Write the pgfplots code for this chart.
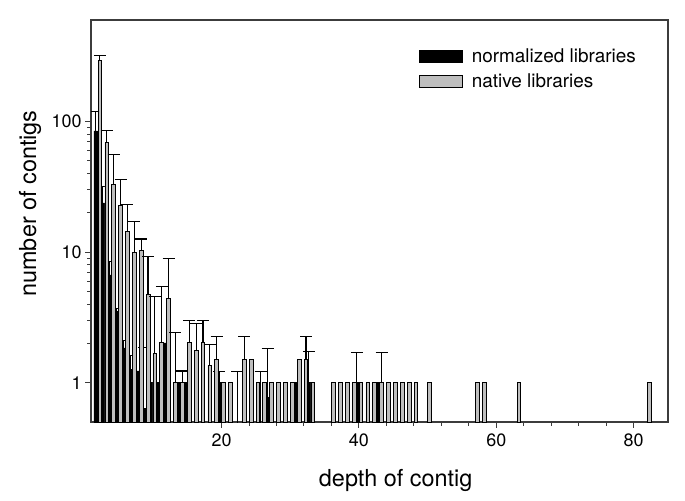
\documentclass[border=0pt]{standalone}
\usepackage{pgfplots}
\pgfplotsset{compat=1.18}
\usepackage{pgfplotstable}
\usetikzlibrary{calc}
\usepackage{fontspec}
\setmainfont{TeX Gyre Heros}
\definecolor{barGray}{RGB}{190,190,190}
\definecolor{axisGray}{RGB}{60,60,60}

% normalized libraries: depth, mean number of contigs
\pgfplotstableread{
d v
2 85
3 23.8
4 6.7
5 3.53
6 1.85
7 1.26
8 1.23
9 0.64
10 1
11 1
12 2.02
14 1
15 1
20 1
27 0.77
31 1
33 1
40 1
43 1
}\normbars
\pgfplotstableread{
d v e
2 85 34
3 23.8 8.2
4 6.7 1.8
5 3.53 0.17
6 1.85 0.25
7 1.26 0.36
9 0.64 1.22
20 1 0.21
26 0.45 0.76
27 0.77 1.05
33 1 0.73
40 1 0.7
}\normerr

% native libraries
\pgfplotstableread{
d v
2 296
3 69
4 33.2
5 22.7
6 14.3
7 10
8 10.3
9 4.73
10 1.67
11 2.02
12 4.41
13 1
14 1
15 2.02
16 1.77
17 2.02
18 1.36
19 1.51
20 1
21 1
23 1.51
24 1.51
25 1
26 1
27 1
28 1
29 1
30 1
31 1.51
32 1.51
33 1
36 1
37 1
38 1
39 1
40 1
41 1
42 1
43 1
44 1
45 1
46 1
47 1
48 1
50 1
57 1
58 1
63 1
82 1
}\nativebars
\pgfplotstableread{
d v e
2 296 26
3 69 16
4 33.2 22.4
5 22.7 13.6
6 14.3 8.7
7 10 7.3
8 10.3 2.3
9 4.73 4.57
10 1.67 2.92
11 2.02 3.46
12 4.41 4.49
13 1 1.44
14 1 0.23
15 2.02 0.99
16 1.77 1.07
17 2.02 0.99
18 1.36 0.6
19 1.51 0.74
22 0.45 0.76
23 1.51 0.74
32 1.51 0.74
43 1 0.7
}\nativeerr

\begin{document}
\begin{tikzpicture}
\begin{axis}[
    name=ax,
    scale only axis,
    width=577bp, height=402bp,
    ymode=log,
    log origin y=infty,
    xmin=1, xmax=85,
    ymin=0.5, ymax=600,
    xtick={20,40,60,80},
    minor x tick num=4,
    ytick={1,10,100},
    yticklabels={1,10,100},
    tick align=outside,
    tick pos=left,
    major tick length=6bp,
    minor tick length=4bp,
    every tick/.style={axisGray, line width=0.9bp},
    axis line style={axisGray, line width=1.2bp},
    /pgf/number format/assume math mode=true,
    tick label style={font=\fontsize{18}{21}\selectfont},
    xlabel={depth of contig},
    ylabel={number of contigs},
    xlabel style={font=\fontsize{23.5}{27}\selectfont, at={(rel axis cs:0.528,-0.1443)}, anchor=center},
    ylabel style={font=\fontsize{23.5}{27}\selectfont, at={(rel axis cs:-0.1057,0.5435)}, anchor=center},
    xticklabel style={yshift=-2bp},
    legend style={draw=none, fill=none, at={(rel axis cs:0.563,0.938)}, anchor=north west,
        font=\fontsize{19}{22}\selectfont, row sep=5bp},
    legend cell align=left,
    legend image code/.code={\draw[#1] (0bp,-6bp) rectangle (43bp,6bp); \path (50bp,0bp);},
    clip=true,
]
\addplot[ybar, bar width=0.55, bar shift=-0.3, fill=black, draw=black, line width=0.6bp]
    table[x=d, y=v] {\normbars};
\addlegendentry{normalized libraries}
\addplot[draw=none, mark=none, forget plot,
    error bars/.cd, y dir=plus, y explicit,
    error bar style={draw=black, line width=1.1bp},
    error mark options={draw=black, line width=1.1bp, mark size=6bp, rotate=90}]
    table[x expr=\thisrow{d}-0.3, y=v, y error=e] {\normerr};
\addplot[ybar, bar width=0.55, bar shift=0.3, fill=barGray, draw=black, line width=0.8bp]
    table[x=d, y=v] {\nativebars};
\addlegendentry{native libraries}
\addplot[draw=none, mark=none, forget plot,
    error bars/.cd, y dir=plus, y explicit,
    error bar style={draw=black, line width=1.1bp},
    error mark options={draw=black, line width=1.1bp, mark size=6bp, rotate=90}]
    table[x expr=\thisrow{d}+0.3, y=v, y error=e] {\nativeerr};
\end{axis}
\pgfresetboundingbox
\path[use as bounding box] ($(ax.south west)+(-91bp,-78bp)$) rectangle ($(ax.north east)+(17bp,20bp)$);
\end{tikzpicture}
\end{document}
